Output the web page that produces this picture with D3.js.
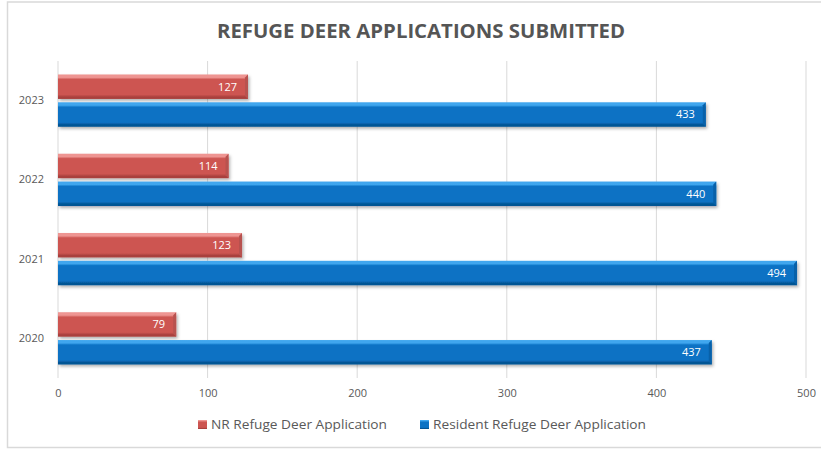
<!DOCTYPE html>
<html>
<head>
<meta charset="utf-8">
<script src="https://cdn.jsdelivr.net/npm/d3@7"></script>
<style>
  html, body { margin: 0; padding: 0; background: #fff; }
  svg { display: block; }
  text { font-family: "Open Sans", Lato, sans-serif; }
</style>
</head>
<body>
<svg id="chart" width="821" height="449"></svg>
<script>
// Applications submitted per year
const years = ["2020", "2021", "2022", "2023"];
const nrApplications = [79, 123, 114, 127];
const residentApplications = [437, 494, 440, 433];
const seriesNames = ["NR Refuge Deer Application", "Resident Refuge Deer Application"];
const xTicks = [0, 100, 200, 300, 400, 500];
const titleText = "REFUGE DEER APPLICATIONS SUBMITTED";

const W = 821, H = 449;
const margin = { left: 58, right: 15, top: 61, bottom: 71 };
const plotW = 806 - margin.left;
const plotH = H - margin.top - margin.bottom;

const svg = d3.select("#chart");

// gradients for the bevelled bars
const defs = svg.append("defs");
const palettes = [
  { id: "nr", light: "#EE9592", mid: "#CD5551", dark: "#A9413E", edge: "#B8524F" },
  { id: "res", light: "#3FA6EE", mid: "#0B72C4", dark: "#045494", edge: "#0861A9" }
];
palettes.forEach(p => {
  const g = defs.append("linearGradient").attr("id", "grad-" + p.id)
    .attr("x1", 0).attr("y1", 0).attr("x2", 0).attr("y2", 1);
  g.append("stop").attr("offset", "0%").attr("stop-color", p.light);
  g.append("stop").attr("offset", "12%").attr("stop-color", p.light);
  g.append("stop").attr("offset", "20%").attr("stop-color", p.mid);
  g.append("stop").attr("offset", "82%").attr("stop-color", p.mid);
  g.append("stop").attr("offset", "92%").attr("stop-color", p.dark);
  g.append("stop").attr("offset", "100%").attr("stop-color", p.dark);
});
const shadow = defs.append("filter").attr("id", "shadow")
  .attr("x", "-5%").attr("y", "-30%").attr("width", "115%").attr("height", "170%");
shadow.append("feDropShadow").attr("dx", 1.5).attr("dy", 2).attr("stdDeviation", 1.4)
  .attr("flood-color", "#000").attr("flood-opacity", 0.3);

// chart frame
svg.append("rect").attr("x", 7.5).attr("y", 2).attr("width", W + 5).attr("height", 445.5)
  .attr("fill", "#fff").attr("stroke", "#d9d9d9").attr("stroke-width", 1.5);

// title
svg.append("text")
  .attr("x", 421).attr("y", 38)
  .attr("text-anchor", "middle")
  .attr("font-family", "Lato, 'Open Sans', sans-serif")
  .attr("font-size", 19).attr("font-weight", "bold").attr("fill", "#555555")
  .attr("textLength", 408).attr("lengthAdjust", "spacingAndGlyphs")
  .text(titleText);

const x = d3.scaleLinear().domain([0, 500]).range([0, plotW]);
const y = d3.scaleBand().domain(years.slice().reverse()).range([0, plotH]).paddingInner(0.34).paddingOuter(0.17);
const ySub = d3.scaleBand().domain([0, 1]).range([0, y.bandwidth()]).paddingInner(0.12);

const g = svg.append("g").attr("transform", `translate(${margin.left},${margin.top})`);

// vertical gridlines
g.selectAll(".grid").data(xTicks).join("line")
  .attr("x1", d => x(d)).attr("x2", d => x(d))
  .attr("y1", 0).attr("y2", plotH)
  .attr("stroke", "#d9d9d9").attr("stroke-width", 1);

// x axis labels
const xAxis = d3.axisBottom(x).tickValues(xTicks).tickSize(0).tickPadding(11);
g.append("g").attr("transform", `translate(0,${plotH})`).call(xAxis)
  .call(s => s.select(".domain").remove())
  .selectAll("text").attr("font-size", 11).attr("fill", "#595959")
  .attr("font-family", "'Open Sans', Lato, sans-serif");

// y axis labels
const yAxis = d3.axisLeft(y).tickSize(0).tickPadding(14);
g.append("g").call(yAxis)
  .call(s => s.select(".domain").remove())
  .selectAll("text").attr("font-size", 11).attr("fill", "#595959")
  .attr("font-family", "'Open Sans', Lato, sans-serif");

// bars
const rows = [];
years.forEach((yr, i) => {
  rows.push({ year: yr, s: 0, v: nrApplications[i] });
  rows.push({ year: yr, s: 1, v: residentApplications[i] });
});

const bar = g.selectAll(".bar").data(rows).join("g")
  .attr("transform", d => `translate(0,${y(d.year) + ySub(d.s)})`);

const bh = ySub.bandwidth();
bar.append("rect")
  .attr("x", 0).attr("y", 0)
  .attr("width", d => x(d.v)).attr("height", bh)
  .attr("fill", d => `url(#grad-${palettes[d.s].id})`)
  .attr("filter", "url(#shadow)");

// bevelled right end
bar.append("path")
  .attr("d", d => {
    const w = x(d.v), b = 3;
    return `M${w - b},${b} L${w},0 L${w},${bh} L${w - b},${bh - b} Z`;
  })
  .attr("fill", d => palettes[d.s].edge);

// value labels
bar.append("text")
  .attr("x", d => x(d.v) - 11)
  .attr("y", bh / 2)
  .attr("dy", "0.36em")
  .attr("text-anchor", "end")
  .attr("font-size", 11).attr("fill", "#fff")
  .text(d => d.v);

// legend
const legendItems = [
  { name: seriesNames[0], p: palettes[0], x: 198, len: 176 },
  { name: seriesNames[1], p: palettes[1], x: 420, len: 213 }
];
const lg = svg.selectAll(".legend").data(legendItems).join("g")
  .attr("transform", d => `translate(${d.x},420)`);
lg.append("rect").attr("width", 9).attr("height", 9)
  .attr("fill", d => `url(#grad-${d.p.id})`);
lg.append("text").attr("x", 13).attr("y", 4.5).attr("dy", "0.36em")
  .attr("font-size", 12.5).attr("fill", "#595959")
  .attr("textLength", d => d.len).attr("lengthAdjust", "spacingAndGlyphs")
  .text(d => d.name);
</script>
</body>
</html>
